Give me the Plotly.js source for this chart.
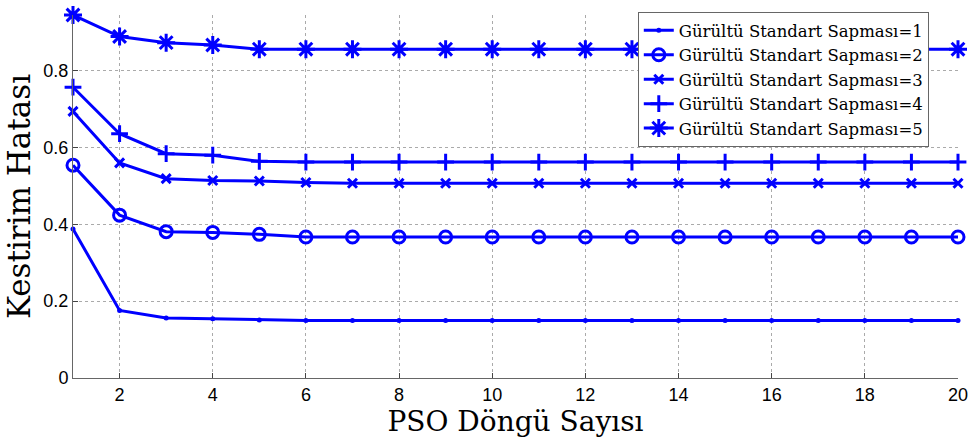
<!DOCTYPE html>
<html><head><meta charset="utf-8">
<script src="https://cdn.plot.ly/plotly-3.0.1.min.js"></script>
<style>html,body{margin:0;padding:0;background:#fff}</style>
</head><body>
<div id="chart" style="width:971px;height:439px"></div>
<script>
const iterations = [1,2,3,4,5,6,7,8,9,10,11,12,13,14,15,16,17,18,19,20];
const seriesNames = [
  "Gürültü Standart Sapması=1",
  "Gürültü Standart Sapması=2",
  "Gürültü Standart Sapması=3",
  "Gürültü Standart Sapması=4",
  "Gürültü Standart Sapması=5"
];
const sd1 = [0.388,0.176,0.156,0.154,0.151,0.150,0.150,0.150,0.150,0.150,0.150,0.150,0.150,0.150,0.150,0.150,0.150,0.150,0.150,0.150];
const sd2 = [0.554,0.424,0.381,0.379,0.374,0.367,0.367,0.367,0.367,0.367,0.367,0.367,0.367,0.367,0.367,0.367,0.367,0.367,0.367,0.367];
const sd3 = [0.694,0.560,0.519,0.514,0.513,0.509,0.507,0.507,0.507,0.507,0.507,0.507,0.507,0.507,0.507,0.507,0.507,0.507,0.507,0.507];
const sd4 = [0.757,0.636,0.584,0.580,0.564,0.562,0.562,0.562,0.562,0.562,0.562,0.562,0.562,0.562,0.562,0.562,0.562,0.562,0.562,0.562];
const sd5 = [0.945,0.889,0.873,0.867,0.856,0.856,0.856,0.856,0.856,0.856,0.856,0.856,0.856,0.856,0.856,0.856,0.856,0.856,0.856,0.856];
const xTicks = [2,4,6,8,10,12,14,16,18,20];
const yTicks = [0,0.2,0.4,0.6,0.8];
const yTickLabels = ["0","0.2","0.4","0.6","0.8"];

const blue = "#0000ff";
const markerDefs = [
  {symbol:"circle", size:5, line:{width:0}},
  {symbol:"circle-open", size:12, line:{width:3, color:blue}},
  {symbol:"x-thin-open", size:9, line:{width:3, color:blue}},
  {symbol:"cross-thin-open", size:12, line:{width:3, color:blue}},
  {symbol:"asterisk-open", size:15, line:{width:3, color:blue}}
];
const ys = [sd1, sd2, sd3, sd4, sd5];
const traces = ys.map((y,i)=>({
  x: iterations, y: y, name: seriesNames[i], type:"scatter", mode:"lines+markers",
  line:{color:blue, width:3},
  marker:Object.assign({color:blue}, markerDefs[i]),
  cliponaxis:false
}));

const serif = "DejaVu Serif, serif";
const sans = "Liberation Sans, Arial, sans-serif";
const layout = {
  width:971, height:439,
  margin:{l:73, r:13, t:15, b:61},
  paper_bgcolor:"#fff", plot_bgcolor:"#fff",
  showlegend:true,
  legend:{x:0.967, xanchor:"right", y:1.008, yanchor:"top",
    bgcolor:"#fff", bordercolor:"#666", borderwidth:1,
    font:{family:serif, size:16.5, color:"#000"},
    tracegroupgap:0, itemwidth:30},
  xaxis:{range:[1,20], tickvals:xTicks, ticktext:xTicks.map(String),
    ticks:"inside", ticklen:5, tickcolor:"#444",
    showline:true, linecolor:"#666", linewidth:1, mirror:false,
    showgrid:true, gridcolor:"#aaa", griddash:"dot", gridwidth:1,
    zeroline:false,
    tickfont:{family:sans, size:18, color:"#000"},
    title:{text:"PSO Döngü Sayısı", font:{family:serif, size:28, color:"#000"}, standoff:3}},
  yaxis:{range:[0,0.945], tickvals:yTicks, ticktext:yTickLabels,
    ticks:"inside", ticklen:5, tickcolor:"#444",
    showline:true, linecolor:"#666", linewidth:1, mirror:false,
    showgrid:true, gridcolor:"#aaa", griddash:"dot", gridwidth:1,
    zeroline:false,
    tickfont:{family:sans, size:18, color:"#000"},
    title:{text:"Kestirim Hatası", font:{family:serif, size:31, color:"#000"}, standoff:3}}
};
Plotly.newPlot("chart", traces, layout, {displayModeBar:false, staticPlot:true});
</script>
</body></html>
